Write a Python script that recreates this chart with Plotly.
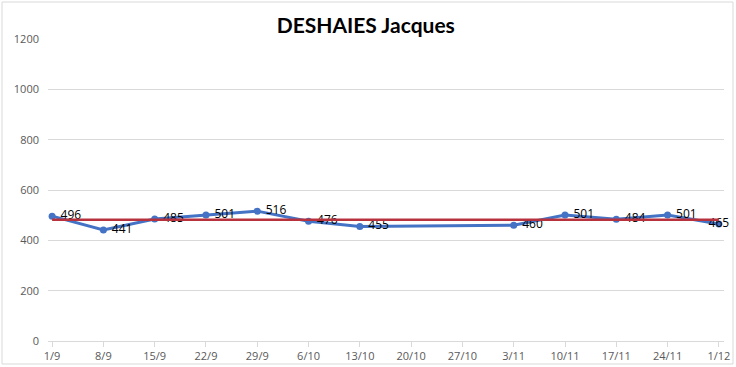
import plotly.graph_objects as go

categories = ["1/9", "8/9", "15/9", "22/9", "29/9", "6/10", "13/10", "20/10",
              "27/10", "3/11", "10/11", "17/11", "24/11", "1/12"]
scores = [496, 441, 485, 501, 516, 476, 455, None, None, 460, 501, 484, 501, 465]
average = [481.75] * len(categories)
y_ticks = [0, 200, 400, 600, 800, 1000, 1200]

W, H = 736, 367
ml, mr, mt, mb = 48, 12, 39, 26
pw, ph = W - ml - mr, H - mt - mb

positions = ["middle right"] * (len(scores) - 1) + ["middle center"]
labels = [(" " + str(v)) if v is not None else "" for v in scores]
labels[-1] = str(scores[-1])

fig = go.Figure()
fig.add_trace(go.Scatter(
    x=categories, y=scores, mode="lines+markers+text",
    connectgaps=True,
    line=dict(color="#4472C4", width=3),
    marker=dict(color="#4472C4", size=7),
    text=labels,
    textposition=positions,
    cliponaxis=False,
    textfont=dict(family="Open Sans, Liberation Sans", size=12, color="#000000"),
    showlegend=False))
fig.add_trace(go.Scatter(
    x=categories, y=average, mode="lines",
    line=dict(color="#B8323E", width=2.5), hoverinfo="skip", showlegend=False))

fig.update_layout(
    width=W, height=H,
    margin=dict(l=ml, r=mr, t=mt, b=mb, autoexpand=False),
    paper_bgcolor="white", plot_bgcolor="white",
    title=dict(text="<b>DESHAIES Jacques</b>", x=0.497, xanchor="center",
               y=1 - 26 / H, yanchor="middle",
               font=dict(family="Lato, Open Sans", size=21, color="#000000")),
    xaxis=dict(type="category", categoryorder="array", categoryarray=categories,
               range=[-0.08, 13.1], showgrid=False, showline=True, automargin=False,
               linecolor="#D9D9D9", linewidth=1, ticks="outside", ticklen=5,
               tickcolor="#D9D9D9",
               tickfont=dict(family="Open Sans, Liberation Sans", size=11, color="#595959"),
               fixedrange=True),
    yaxis=dict(range=[0, 1200], tickvals=y_ticks, showgrid=True, automargin=False,
               gridcolor="#D9D9D9", gridwidth=1, zeroline=False, showline=False,
               ticks="", ticklabelstandoff=8,
               tickfont=dict(family="Open Sans, Liberation Sans", size=11, color="#595959"),
               fixedrange=True),
    shapes=[dict(type="rect", xref="paper", yref="paper",
                 x0=(2 - ml) / pw, x1=(733 - ml) / pw,
                 y0=(H - mb - 364) / ph, y1=(H - mb - 2) / ph,
                 line=dict(color="#D9D9D9", width=1), layer="below")],
)

fig.write_html("out.html", config={"displayModeBar": False},
               post_script="document.body.style.margin='0';document.body.style.overflow='hidden';")
